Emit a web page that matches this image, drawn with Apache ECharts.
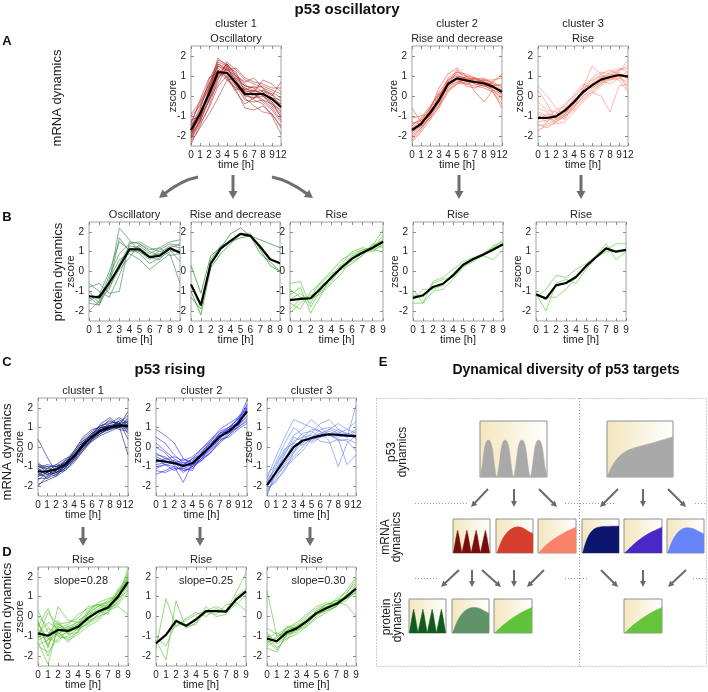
<!DOCTYPE html>
<html><head><meta charset="utf-8">
<script src="https://cdn.jsdelivr.net/npm/echarts@6/dist/echarts.min.js"></script>
<style>html,body{margin:0;padding:0;background:#fff}#c{width:708px;height:692px}</style>
</head><body><div id="c"></div>
<script>
// ---------------- DATA ----------------
const mrnaTimes = ['0','1','2','3','4','5','6','7','8','9','12'];
const proteinTimes = ['0','1','2','3','4','5','6','7','8','9'];
const zTicks = [-2,-1,0,1,2];

// Panel A (p53 oscillatory, mRNA)
const a1Mean = [-1.7,-0.9,0.1,1.2,1.15,0.65,0.1,0.1,0.1,-0.15,-0.55];
const a1Genes = [
 [-2.1,-1.2,0.3,1.6,1.4,0.8,0.2,0.3,0.0,-0.4,-0.9],
 [-1.5,-0.6,0.5,1.9,1.5,0.9,0.5,0.4,0.5,0.3,0.1],
 [-1.9,-1.3,-0.2,1.0,1.6,1.0,0.4,0.2,0.3,0.1,-0.3],
 [-1.3,-0.4,0.6,1.5,1.2,0.5,-0.2,-0.3,-0.2,-0.6,-1.2],
 [-2.4,-1.5,-0.5,0.8,1.7,1.3,0.8,0.6,0.4,0.2,-0.1],
 [-1.0,-0.5,0.4,1.3,1.0,0.3,-0.6,-0.7,-0.5,-0.9,-1.6],
 [-1.8,-0.9,0.0,1.1,1.3,1.4,0.9,0.7,0.6,0.4,0.4],
 [-2.2,-1.4,-0.6,0.5,1.0,0.5,0.0,-0.1,0.2,-0.3,-0.8],
 [-1.6,-0.7,0.8,1.7,1.5,0.6,0.0,0.3,0.1,-0.2,-0.4],
 [-1.2,-1.0,-0.3,0.9,1.4,0.8,0.1,-0.2,-0.4,-1.0,-1.9],
 [-2.0,-0.8,0.2,1.4,0.9,0.2,-0.4,-0.1,0.0,-0.5,-1.0],
 [-1.7,-1.1,0.3,1.8,1.6,1.1,0.6,0.2,0.8,0.6,0.2],
 [-1.4,-0.2,0.9,1.2,0.8,0.4,0.3,0.5,0.2,0.1,-0.6],
 [-2.3,-1.6,-0.9,-0.1,0.8,0.9,0.3,0.1,-0.3,-0.7,-1.3],
 [-1.9,-1.0,0.1,1.0,1.2,0.7,-0.1,-0.5,-0.8,-0.9,-1.5],
 [-0.9,-0.3,0.6,1.6,1.3,1.0,0.7,0.9,0.4,0.0,0.7],
 [-2.1,-1.3,-0.2,0.6,1.5,1.2,0.2,0.0,0.1,-0.1,-0.2],
 [-1.5,-0.8,0.1,1.3,0.9,0.3,0.4,0.1,-0.2,-0.4,-0.7],
 [-1.8,-1.1,0.4,1.5,1.3,0.7,0.1,-0.1,0.3,-0.1,-0.4],
 [-2.0,-1.2,-0.1,1.1,1.6,1.0,0.5,0.4,0.0,-0.3,-1.1]
];
const a2Mean = [-1.7,-1.4,-0.85,-0.2,0.6,0.88,0.78,0.7,0.63,0.47,0.2];
const a2Genes = [
 [-2.1,-1.6,-1.0,-0.1,0.9,1.2,1.0,0.9,0.8,0.7,0.4],
 [-1.4,-1.2,-0.6,0.2,0.8,1.0,0.9,0.6,0.5,0.3,-0.2],
 [-2.3,-1.8,-1.2,-0.5,0.3,0.7,0.8,0.9,0.7,0.6,0.5],
 [-0.6,-1.3,-0.9,0.0,0.7,0.9,0.5,0.4,0.6,0.2,-0.4],
 [-1.8,-1.5,-0.7,0.4,1.1,1.4,1.0,0.8,0.7,0.5,0.0],
 [-1.9,-1.5,-1.1,-0.6,0.2,0.6,0.7,0.7,0.8,0.8,0.9],
 [-1.5,-1.1,-0.5,0.1,0.6,0.8,0.6,0.5,0.4,0.2,-0.6],
 [-1.7,-1.4,-0.8,-0.3,0.5,1.0,0.9,0.2,-0.3,0.3,0.1],
 [-2.0,-1.6,-1.1,-0.3,0.4,0.9,0.9,0.8,0.9,0.6,0.3],
 [-1.6,-1.2,-0.9,-0.4,0.7,1.3,0.8,0.6,0.5,0.7,1.1],
 [-1.3,-1.4,-0.7,0.0,0.5,0.7,0.6,0.7,0.5,0.4,0.2],
 [-2.2,-1.7,-1.0,-0.2,0.8,1.1,0.7,0.9,0.7,0.3,-0.1],
 [-1.8,-1.3,-0.6,0.1,0.3,0.6,1.0,0.7,0.8,0.5,0.6],
 [-1.1,-1.0,-0.9,-0.5,0.6,1.2,1.1,0.9,0.6,0.4,0.3]
];
const a3Mean = [-1.1,-1.1,-1.02,-0.72,-0.3,0.2,0.53,0.82,0.95,1.05,0.97];
const a3Genes = [
 [-1.5,-1.4,-1.2,-0.9,-0.4,0.1,0.6,0.9,1.1,1.3,1.5],
 [0.5,0.0,-0.6,-1.0,-0.6,0.0,0.4,0.7,0.9,1.0,1.2],
 [-0.8,-1.0,-1.3,-0.9,-0.1,0.5,0.8,1.0,0.9,1.2,0.8],
 [-1.3,-1.2,-1.1,-0.8,-0.5,0.0,0.3,0.6,1.0,1.2,1.8],
 [-0.3,-0.7,-0.8,-1.2,-0.3,0.3,0.7,1.1,1.3,1.1,0.3],
 [-1.7,-1.5,-1.3,-1.0,-0.7,-0.2,0.2,0.6,0.8,0.9,0.7],
 [-1.0,-1.3,-0.9,-0.4,0.0,0.4,0.6,0.8,0.6,0.9,1.1],
 [-1.2,-0.9,-1.0,-0.7,-0.4,0.3,0.9,1.2,1.1,1.0,1.0],
 [-0.6,-0.8,-1.1,-1.1,-0.5,-0.1,0.2,0.0,-0.8,0.5,0.6],
 [-1.4,-1.6,-1.3,-1.0,-0.2,0.2,0.5,0.9,1.2,1.4,1.2],
 [-0.9,-1.1,-0.7,-0.5,0.1,0.6,0.4,0.7,0.9,0.8,0.2],
 [-1.8,-1.3,-0.9,-0.6,-0.2,0.1,0.6,1.0,1.0,1.3,1.4],
 [0.3,-0.4,-1.2,-0.8,-0.6,0.4,1.5,1.1,0.8,1.0,0.9],
 [-1.1,-1.0,-1.4,-1.3,-0.8,-0.3,0.1,0.5,0.9,1.0,0.5]
];

// Panel B (protein)
const b1Mean = [-1.25,-1.3,-0.58,0.25,1.12,1.12,0.72,0.8,1.17,0.95];
const b1Genes = [
 [-1.0,-1.6,-0.5,2.2,1.6,1.0,0.6,1.1,1.4,1.3],
 [-1.4,-1.2,0.0,1.5,1.1,1.3,0.9,1.2,1.5,1.6],
 [-0.8,-0.6,-1.1,-1.0,1.5,1.4,1.0,0.8,1.1,0.5],
 [-1.6,-1.7,-0.4,0.6,0.9,0.6,0.1,0.5,0.9,-0.6],
 [-1.2,-1.4,-0.9,0.4,1.3,1.2,0.8,0.9,1.3,1.2],
 [-2.0,-1.5,-0.2,0.9,1.4,1.5,1.2,1.0,1.2,1.0],
 [-0.6,-1.0,-1.3,-0.2,1.2,0.9,0.4,0.7,1.0,1.1],
 [-1.3,-1.7,-0.7,1.7,1.0,1.0,0.7,0.6,1.2,1.4],
 [-1.5,-1.2,-0.8,0.1,0.7,1.4,1.1,1.2,0.8,0.9]
];
const b2Mean = [-0.65,-1.7,0.4,1.15,1.55,1.9,1.8,1.25,0.62,0.42];
const b2Genes = [
 [0.3,-1.1,0.8,1.2,1.9,2.2,1.8,1.6,1.4,1.2],
 [-1.0,-2.2,0.2,0.9,1.4,1.9,1.9,1.1,0.3,0.0],
 [-1.3,-1.9,0.6,1.3,1.5,1.7,1.8,0.9,0.5,0.0]
];
const b3Mean = [-1.45,-1.38,-1.35,-0.85,-0.3,0.2,0.65,0.95,1.2,1.5];
const b3Genes = [
 [-0.6,-0.5,-1.8,-0.9,-0.3,0.3,0.8,1.0,1.3,2.1],
 [-1.9,-1.4,-1.3,-0.5,0.0,0.6,0.9,1.1,1.2,1.8],
 [-2.1,-1.6,-1.2,-1.0,-0.5,0.2,0.6,0.9,1.1,1.3],
 [-1.2,-0.8,-2.1,-1.2,-0.2,0.4,1.0,1.2,1.1,1.0],
 [-1.6,-1.9,-1.0,-0.6,-0.1,0.1,0.4,0.8,1.3,1.6],
 [-0.9,-1.3,-1.4,-1.1,-0.6,-0.1,0.7,1.1,1.0,1.4],
 [-1.4,-1.1,-1.6,-0.7,-0.4,0.3,0.5,0.8,1.4,1.2]
];
const b4Mean = [-1.33,-1.2,-0.78,-0.62,-0.2,0.33,0.62,0.85,1.1,1.38];
const b4Genes = [
 [-0.9,-1.6,-0.5,-0.3,0.1,0.5,0.7,0.9,1.2,1.6],
 [-1.6,-1.6,-1.0,-0.9,-0.4,0.2,0.5,0.8,0.6,1.1],
 [-1.4,-0.9,-0.9,-0.7,-0.1,0.4,0.6,0.9,1.2,1.4],
 [-1.2,-1.3,-0.6,-0.4,-0.3,0.3,0.7,0.8,1.3,1.5]
];
const b5Mean = [-1.15,-1.37,-0.7,-0.58,-0.28,0.27,0.72,1.17,1.0,1.1];
const b5Genes = [
 [-1.3,-0.9,-0.2,-0.3,0.1,0.4,0.8,1.4,0.6,1.0],
 [-1.1,-2.0,-0.6,-0.4,-0.6,0.1,0.7,1.1,1.4,1.4],
 [-1.2,-1.3,-1.3,-0.9,-0.3,0.3,0.7,1.0,1.0,1.0]
];

// Panel C (p53 rising, mRNA)
const c1Mean = [-1.25,-1.25,-1.15,-0.9,-0.48,0.1,0.52,0.85,1.0,1.1,1.08];
const c1Genes = [
 [-1.6,-1.6,-1.4,-1.1,-0.6,0.0,0.5,0.8,1.0,1.2,1.6],
 [-0.9,-1.0,-1.0,-0.8,-0.3,0.3,0.7,1.0,1.1,1.2,0.9],
 [0.4,-0.5,-1.3,-1.2,-0.7,-0.1,0.4,0.7,1.0,1.0,1.1],
 [-1.9,-1.7,-1.5,-1.2,-0.8,-0.2,0.3,0.6,0.8,1.0,1.3],
 [-1.2,-1.4,-1.2,-0.7,-0.2,0.4,0.8,1.1,1.2,1.3,0.7],
 [-1.5,-1.3,-0.9,-0.6,-0.4,0.1,0.5,0.9,1.1,1.0,1.4],
 [-1.0,-1.1,-1.2,-1.0,-0.5,0.2,0.7,1.1,1.3,1.2,1.0],
 [-1.4,-1.5,-1.3,-1.0,-0.6,-0.1,0.4,0.7,0.9,1.1,1.8],
 [-1.1,-0.9,-1.0,-0.9,-0.3,0.3,0.6,0.9,1.2,1.5,1.2],
 [-1.7,-1.3,-1.1,-0.8,-0.5,0.0,0.6,1.2,1.5,1.1,-0.4],
 [-0.8,-1.2,-1.4,-1.1,-0.6,0.2,0.5,0.8,0.9,1.0,1.2],
 [-1.3,-1.6,-1.2,-0.9,-0.4,0.0,0.3,0.7,1.0,1.3,0.4],
 [-2.0,-1.5,-1.0,-0.7,-0.5,0.2,0.7,0.9,1.0,1.0,1.5],
 [-1.2,-1.0,-1.3,-1.0,-0.7,-0.2,0.4,1.0,1.4,1.0,0.9],
 [-1.5,-1.1,-0.9,-1.0,-0.4,0.1,0.5,0.8,0.9,1.4,1.1],
 [-0.9,-1.3,-1.5,-0.9,-0.2,0.5,0.9,1.0,1.1,0.9,0.8],
 [-1.4,-1.2,-1.1,-0.8,-0.6,0.0,0.4,0.8,1.1,1.2,1.3],
 [-1.1,-1.4,-1.3,-1.1,-0.4,0.2,0.6,1.0,1.0,1.1,1.0]
];
const c2Mean = [-0.68,-0.74,-0.82,-0.97,-0.82,-0.4,0.05,0.52,0.8,1.2,1.82];
const c2Genes = [
 [0.9,0.6,0.2,-0.6,-0.8,-0.5,0.0,0.5,0.8,1.3,1.9],
 [-1.2,-1.3,-1.1,-1.1,-0.9,-0.5,-0.1,0.4,0.9,1.3,2.4],
 [-0.4,-0.5,-0.9,-1.3,-1.0,-0.6,0.1,0.7,0.9,1.1,1.5],
 [-0.9,-0.8,-0.7,-0.8,-1.0,-0.7,-0.2,0.3,0.6,1.0,2.0],
 [0.2,-0.2,-0.6,-0.9,-0.6,-0.1,0.3,0.7,1.0,1.4,1.7],
 [-1.4,-1.2,-1.0,-1.2,-1.1,-0.6,-0.3,0.3,0.7,1.2,2.2],
 [-0.6,-0.9,-1.0,-1.8,-0.8,-0.3,0.2,0.6,0.7,1.0,1.3],
 [-0.3,-0.6,-0.5,-0.7,-0.5,-0.1,0.4,0.8,1.0,1.2,1.8],
 [-1.0,-0.9,-1.2,-1.0,-0.9,-0.7,-0.3,0.2,0.6,1.1,1.6],
 [0.5,0.2,-0.4,-0.8,-0.7,-0.2,0.2,0.6,0.9,1.5,2.1],
 [-0.8,-0.6,-0.7,-1.1,-1.2,-0.4,0.0,0.5,1.0,1.4,2.0],
 [-1.1,-0.9,-0.8,-0.9,-0.6,-0.4,0.1,0.7,0.8,1.0,1.4],
 [-0.5,-0.7,-0.9,-0.6,-0.9,-0.6,-0.1,0.4,0.5,0.9,1.2],
 [0.0,-0.3,-0.8,-1.2,-1.0,-0.3,0.3,0.9,1.2,1.5,1.9]
];
const c3Mean = [-1.95,-1.3,-0.65,0.0,0.32,0.46,0.58,0.65,0.62,0.58,0.55];
const c3Genes = [
 [-1.6,-0.5,0.5,1.4,1.2,1.0,0.8,0.6,0.9,0.7,0.6],
 [-2.3,-1.6,-0.9,-0.3,0.2,0.5,0.7,0.9,0.7,0.5,2.1],
 [-1.8,-1.0,-0.2,0.6,0.9,1.4,1.0,0.6,0.4,0.3,-0.2],
 [-2.0,-1.5,-0.8,-0.2,0.4,0.3,0.6,0.8,0.6,0.7,0.4],
 [-1.5,-1.4,-1.0,-0.5,0.0,0.5,0.9,1.0,0.8,0.5,0.8],
 [-2.4,-1.2,-0.3,0.3,0.5,0.6,0.3,0.2,0.4,-0.9,-0.4],
 [-1.9,-0.8,0.2,1.0,0.6,0.2,0.5,0.9,1.2,0.9,1.3],
 [-2.1,-1.8,-1.1,-0.6,-0.2,0.4,0.7,0.6,0.5,0.6,0.9],
 [-1.7,-1.1,-0.6,0.2,0.7,0.8,0.5,0.7,0.3,0.4,0.2],
 [-2.5,-1.3,-0.4,0.5,0.3,0.7,1.2,1.4,0.9,0.6,0.5],
 [-1.4,-0.9,-0.1,0.2,0.1,0.4,0.5,0.6,0.7,0.9,0.7],
 [-2.2,-1.7,-1.2,-0.3,0.5,0.9,0.8,0.3,-1.0,0.2,0.6]
];

// Panel D (protein, rise)
const d1Mean = [-0.85,-0.97,-0.68,-0.73,-0.52,-0.08,0.25,0.45,1.0,1.75];
const d1Genes = [
 [-0.5,0.4,-0.9,-0.6,-0.4,0.1,0.3,0.5,1.0,2.4],
 [-1.3,-2.4,-0.5,-0.8,-0.6,0.0,0.4,0.6,1.2,1.9],
 [-0.2,-1.6,0.5,-0.2,-0.3,0.2,0.5,0.7,1.1,1.5],
 [-1.1,-0.6,-1.0,-1.1,-0.8,-0.3,0.1,0.4,0.9,2.0],
 [-0.7,-1.2,-0.3,-0.9,-0.4,0.3,0.6,0.3,0.5,0.1],
 [0.3,-0.8,-0.9,-0.5,-0.7,-0.2,0.0,0.2,0.8,1.6],
 [-1.5,-1.8,-1.1,-1.0,-0.6,-0.4,0.1,0.5,1.1,1.8],
 [-0.9,-0.3,-0.6,-0.4,0.1,0.4,0.6,0.7,1.2,2.2],
 [-0.6,-1.4,-0.8,-1.2,-0.9,-0.5,-0.2,0.3,0.9,1.3],
 [-1.0,0.2,-0.4,-0.7,-0.2,0.1,0.5,0.8,1.3,1.7],
 [-0.4,-1.1,-1.3,-0.6,-0.5,-0.1,0.2,0.4,0.7,1.4],
 [-1.2,-0.9,-0.2,-0.9,-0.8,0.2,0.7,0.9,1.0,2.1],
 [-0.8,-2.0,-0.7,-0.5,-0.3,-0.2,0.3,0.1,1.4,1.9],
 [0.0,-0.5,-1.0,-0.8,-0.4,0.0,0.2,0.6,1.1,1.6],
 [-1.4,-1.2,-0.8,-1.3,-0.7,-0.3,-0.1,0.4,0.6,1.2],
 [-0.3,-1.5,-0.4,-0.3,-0.1,0.5,0.6,0.5,0.9,1.8]
];
const d2Mean = [-1.35,-0.93,-0.22,-0.47,-0.15,0.27,0.27,0.25,0.85,1.27];
const d2Genes = [
 [-1.6,0.9,-0.5,-0.2,0.1,0.3,0.5,0.3,1.2,2.2],
 [-1.2,-2.2,0.8,-0.6,-0.3,0.2,0.1,0.6,0.7,0.3],
 [-1.0,-1.5,-0.3,-0.5,-0.4,0.5,0.0,0.1,1.0,1.4],
 [-1.4,-0.9,-0.5,-0.1,0.2,0.0,0.4,0.2,0.6,1.1]
];
const d3Mean = [-1.12,-1.25,-0.8,-0.6,-0.25,0.17,0.42,0.63,0.98,1.4];
const d3Genes = [
 [1.3,-1.0,-0.7,-0.5,-0.2,0.2,0.5,0.7,1.0,1.5],
 [-1.6,-1.8,-0.9,-0.7,-0.4,0.1,0.3,0.5,1.1,1.9],
 [-0.8,-1.4,-1.0,-0.6,-0.3,0.3,0.6,0.8,0.9,1.2],
 [-1.3,-1.1,-0.6,-0.3,0.1,0.5,0.7,0.6,0.8,1.3],
 [-1.0,-1.6,-1.1,-0.9,-0.5,-0.1,0.2,0.5,1.0,1.6],
 [-1.5,-1.2,-0.7,-0.5,-0.4,0.2,0.4,0.9,1.2,1.7],
 [-0.6,-0.9,-0.6,-0.4,0.0,0.4,0.6,0.7,0.6,0.0],
 [-1.2,-1.7,-0.9,-0.8,-0.2,0.1,0.3,0.5,1.1,1.4],
 [-0.9,-1.3,-0.5,-0.6,-0.3,0.3,0.5,0.6,0.9,1.2],
 [-1.4,-1.0,-0.8,-0.7,-0.5,0.0,0.4,0.7,1.3,2.0],
 [-1.1,-0.8,-1.2,-0.5,-0.1,0.2,0.6,0.8,1.0,1.5]
];
const slopes = ['slope=0.28','slope=0.25','slope=0.30'];

// Panel E schematic shapes ([x%, height fraction])
const sP53Osc = [[0,0],[3.5,0.22],[6.5,0.5],[9.5,0.63],[12.5,0.66],[15.5,0.63],[18.5,0.5],[21.5,0.22],[25,0],[28.5,0.22],[31.5,0.5],[34.5,0.63],[37.5,0.66],[40.5,0.63],[43.5,0.5],[46.5,0.22],[50,0],[53.5,0.22],[56.5,0.5],[59.5,0.63],[62.5,0.66],[65.5,0.63],[68.5,0.5],[71.5,0.22],[75,0],[78.5,0.22],[81.5,0.5],[84.5,0.63],[87.5,0.66],[90.5,0.63],[93.5,0.5],[96.5,0.22],[100,0]];
const sP53Rise = [[0,0],[8,0.2],[18,0.36],[30,0.47],[50,0.55],[75,0.63],[100,0.72]];
const sMrnaOsc = [[1,0],[9,0.5],[12.5,0.67],[16,0.5],[24,0],[26,0],[34,0.5],[37.5,0.67],[41,0.5],[49,0],[51,0],[59,0.5],[62.5,0.67],[66,0.5],[74,0],[76,0],[84,0.5],[87.5,0.67],[91,0.5],[99,0]];
const sMrnaRiseDec = [[3,0],[15,0.35],[28,0.58],[42,0.71],[58,0.77],[72,0.74],[86,0.65],[100,0.57]];
const sMrnaRise = [[2,0],[20,0.22],[40,0.4],[60,0.54],[80,0.66],[100,0.76]];
const sMrnaC1 = [[2,0],[10,0.3],[20,0.55],[32,0.7],[45,0.76],[60,0.78],[100,0.79]];
const sMrnaC2 = [[2,0],[25,0.25],[50,0.47],[75,0.63],[100,0.76]];
const sMrnaC3 = [[2,0],[12,0.3],[25,0.55],[40,0.7],[55,0.74],[70,0.72],[85,0.64],[100,0.56]];
const sProtOsc = [[1,0],[9,0.52],[12.5,0.7],[16,0.52],[24,0],[26,0],[34,0.52],[37.5,0.7],[41,0.52],[49,0],[51,0],[59,0.52],[62.5,0.7],[66,0.52],[74,0],[76,0],[84,0.52],[87.5,0.7],[91,0.52],[99,0]];
const sProtRiseDec = [[2,0],[15,0.36],[30,0.6],[45,0.72],[60,0.75],[75,0.72],[90,0.63],[100,0.57]];
const sProtRise = [[2,0],[25,0.24],[50,0.45],[75,0.62],[100,0.75]];

// ---------------- BUILD ----------------
const FONT = '"Liberation Sans", Arial, Helvetica, sans-serif';
const chart = echarts.init(document.getElementById('c'), null, {renderer:'canvas'});
const grids=[], xAxes=[], yAxes=[], series=[], graphics=[];

function text(t,x,y,o){
  o=o||{};
  graphics.push({type:'text',x:x,y:y,rotation:o.rot||0,silent:true,z:10,
    style:{text:t,fontSize:o.size||11,fontWeight:o.bold?'bold':'normal',fontFamily:FONT,
      fill:o.color||'#222',align:'center',verticalAlign:'middle',lineHeight:o.lh||undefined}});
}
function plot(p){
  const l=p.rect[0],t=p.rect[1],w=p.rect[2],h=p.rect[3];
  const gi=grids.length;
  grids.push({left:l,top:t,width:w,height:h,show:true,borderColor:'#a3a3a3',borderWidth:1,backgroundColor:'#fff'});
  const tick={show:true,inside:true,length:3,interval:0,lineStyle:{color:'#8c8c8c',width:1}};
  const xi=xAxes.length;
  xAxes.push({gridIndex:gi,type:'category',data:p.cats,boundaryGap:false,position:'bottom',
    axisLine:{show:false,onZero:false},axisTick:tick,
    axisLabel:{interval:0,fontSize:10,color:'#222',margin:4,fontFamily:FONT},splitLine:{show:false}});
  xAxes.push({gridIndex:gi,type:'category',data:p.cats,boundaryGap:false,position:'top',
    axisLine:{show:false,onZero:false},axisTick:tick,axisLabel:{show:false},splitLine:{show:false}});
  const yi=yAxes.length;
  const ytick={show:true,inside:true,length:3,customValues:zTicks,lineStyle:{color:'#8c8c8c',width:1}};
  yAxes.push({gridIndex:gi,type:'value',min:-2.5,max:2.5,position:'left',axisLine:{show:false,onZero:false},axisTick:ytick,
    axisLabel:{customValues:zTicks,fontSize:10,color:'#222',margin:5,fontFamily:FONT},splitLine:{show:false}});
  yAxes.push({gridIndex:gi,type:'value',min:-2.5,max:2.5,position:'right',axisLine:{show:false,onZero:false},axisTick:ytick,
    axisLabel:{show:false},splitLine:{show:false}});
  p.genes.forEach(function(g){
    series.push({type:'line',xAxisIndex:xi,yAxisIndex:yi,data:g,symbol:'none',silent:true,animation:false,z:2,
      lineStyle:{width:1,color:p.color}});
  });
  series.push({type:'line',xAxisIndex:xi,yAxisIndex:yi,data:p.mean,symbol:'none',silent:true,animation:false,z:3,
    lineStyle:{width:2.2,color:'#000'}});
  const cx=l+w/2;
  if(p.title) text(p.title,cx,t-7,{size:11});
  if(p.sup) text(p.sup,cx,t-22,{size:11});
  text('time [h]',cx,t+h+19,{size:11});
  if(p.zscore) text('zscore',l-18,t+h/2,{size:11,rot:Math.PI/2});
  if(p.slope) text(p.slope,cx+p.slopeDx,t+14,{size:11});
}
function schem(rect,data,color,smooth){
  const gi=grids.length;
  grids.push({left:rect[0],top:rect[1],width:rect[2],height:rect[3],show:true,borderColor:'#8f8f8f',borderWidth:1,
    backgroundColor:new echarts.graphic.LinearGradient(0,0,1,0,[{offset:0,color:'#f3e6bd'},{offset:1,color:'#ffffff'}])});
  const xi=xAxes.length; xAxes.push({gridIndex:gi,type:'value',min:0,max:100,show:false});
  const yi=yAxes.length; yAxes.push({gridIndex:gi,type:'value',min:0,max:1,show:false});
  series.push({type:'line',xAxisIndex:xi,yAxisIndex:yi,data:data,symbol:'none',smooth:smooth?0.35:false,
    silent:true,animation:false,z:2,lineStyle:{width:0.5,color:color},areaStyle:{color:color,opacity:1}});
}
function arrow(x1,y1,x2,y2,lw,hl,hw,color){
  const a=Math.atan2(y2-y1,x2-x1);
  const bx=x2-hl*Math.cos(a), by=y2-hl*Math.sin(a);
  const px=-Math.sin(a)*hw/2, py=Math.cos(a)*hw/2;
  graphics.push({type:'line',silent:true,z:9,shape:{x1:x1,y1:y1,x2:bx+Math.cos(a),y2:by+Math.sin(a)},style:{stroke:color,lineWidth:lw}});
  graphics.push({type:'polygon',silent:true,z:9,shape:{points:[[x2,y2],[bx+px,by+py],[bx-px,by-py]]},style:{fill:color}});
}
function curvedArrow(x1,y1,cx,cy,x2,y2,lw,hl,hw,color){
  const a=Math.atan2(y2-cy,x2-cx);
  const bx=x2-hl*Math.cos(a), by=y2-hl*Math.sin(a);
  const px=-Math.sin(a)*hw/2, py=Math.cos(a)*hw/2;
  graphics.push({type:'bezierCurve',silent:true,z:9,shape:{x1:x1,y1:y1,cpx1:cx,cpy1:cy,x2:bx+Math.cos(a),y2:by+Math.sin(a)},style:{stroke:color,lineWidth:lw,fill:null}});
  graphics.push({type:'polygon',silent:true,z:9,shape:{points:[[x2,y2],[bx+px,by+py],[bx-px,by-py]]},style:{fill:color}});
}

// colors
const cA1='rgba(160,20,20,0.5)', cA2='rgba(232,68,46,0.55)', cA3='rgba(247,127,106,0.55)';
const cB1='rgba(78,143,95,0.7)', cB2='rgba(60,158,60,0.8)', cB3='rgba(100,204,76,0.75)', cB4='rgba(118,216,96,0.8)';
const cC1='rgba(13,27,126,0.6)', cC2='rgba(43,43,240,0.6)', cC3='rgba(100,128,242,0.6)';
const cD='rgba(80,192,42,0.6)';

// Panel A
plot({rect:[191,46,90,100],cats:mrnaTimes,genes:a1Genes,mean:a1Mean,color:cA1,zscore:true,sup:'cluster 1',title:'Oscillatory'});
plot({rect:[412,46,90,100],cats:mrnaTimes,genes:a2Genes,mean:a2Mean,color:cA2,zscore:true,sup:'cluster 2',title:'Rise and decrease'});
plot({rect:[538,46,90,100],cats:mrnaTimes,genes:a3Genes,mean:a3Mean,color:cA3,zscore:true,sup:'cluster 3',title:'Rise'});
// Panel B
plot({rect:[89,222,91,99],cats:proteinTimes,genes:b1Genes,mean:b1Mean,color:cB1,zscore:true,title:'Oscillatory'});
plot({rect:[191,222,89,99],cats:proteinTimes,genes:b2Genes,mean:b2Mean,color:cB2,title:'Rise and decrease'});
plot({rect:[290,222,93,99],cats:proteinTimes,genes:b3Genes,mean:b3Mean,color:cB3,title:'Rise'});
plot({rect:[413,222,90,99],cats:proteinTimes,genes:b4Genes,mean:b4Mean,color:cB4,zscore:true,title:'Rise'});
plot({rect:[536,222,90,99],cats:proteinTimes,genes:b5Genes,mean:b5Mean,color:cB4,zscore:true,title:'Rise'});
// Panel C
plot({rect:[38,398,90,98],cats:mrnaTimes,genes:c1Genes,mean:c1Mean,color:cC1,zscore:true,title:'cluster 1'});
plot({rect:[156,398,91,98],cats:mrnaTimes,genes:c2Genes,mean:c2Mean,color:cC2,zscore:true,title:'cluster 2'});
plot({rect:[267,398,89,98],cats:mrnaTimes,genes:c3Genes,mean:c3Mean,color:cC3,zscore:true,title:'cluster 3'});
// Panel D
plot({rect:[38,567,90,99],cats:proteinTimes,genes:d1Genes,mean:d1Mean,color:cD,zscore:true,title:'Rise',slope:slopes[0],slopeDx:-2});
plot({rect:[156,567,90,99],cats:proteinTimes,genes:d2Genes,mean:d2Mean,color:cD,title:'Rise',slope:slopes[1],slopeDx:5});
plot({rect:[267,567,89,99],cats:proteinTimes,genes:d3Genes,mean:d3Mean,color:cD,title:'Rise',slope:slopes[2],slopeDx:7});

// Panel E schematic
schem([480,421,67,56],sP53Osc,'#a9a9a9',true);
schem([607,421,66,56],sP53Rise,'#a9a9a9',true);
schem([453,519,37,34],sMrnaOsc,'#7b0c0c',false);
schem([496,519,37,34],sMrnaRiseDec,'#d63d2d',true);
schem([538,519,38,34],sMrnaRise,'#f9826a',true);
schem([582,519,37,34],sMrnaC1,'#0b176f',true);
schem([624,519,38,34],sMrnaC2,'#4a28c8',true);
schem([667,519,37,34],sMrnaC3,'#6784f8',true);
schem([409,599,37,34],sProtOsc,'#0f5a1e',false);
schem([452,599,37,34],sProtRiseDec,'#5f9368',true);
schem([494,599,38,34],sProtRise,'#5ec23a',true);
schem([624,599,38,34],sProtRise,'#66c43c',true);

// Headings and side labels
text('p53 oscillatory',347,10,{size:15,bold:true,color:'#111'});
text('A',7,41,{size:13,bold:true,color:'#111'});
text('mRNA dynamics',57,98,{size:13,rot:Math.PI/2});
text('B',7,217,{size:13,bold:true,color:'#111'});
text('protein dynamics',58,272,{size:13,rot:Math.PI/2});
text('C',7,362,{size:13,bold:true,color:'#111'});
text('p53 rising',170,370,{size:15,bold:true,color:'#111'});
text('mRNA dynamics',7,452,{size:13,rot:Math.PI/2});
text('D',7,552,{size:13,bold:true,color:'#111'});
text('protein dynamics',7,612,{size:13,rot:Math.PI/2});
text('E',383,362,{size:13,bold:true,color:'#111'});
text('Dynamical diversity of p53 targets',566,370,{size:14,bold:true,color:'#111'});
text('p53\ndynamics',397,452,{size:12,rot:Math.PI/2,lh:11});
text('mRNA\ndynamics',391,537,{size:12,rot:Math.PI/2,lh:11});
text('protein\ndynamics',392,617,{size:12,rot:Math.PI/2,lh:11});

// Arrows A -> B and C -> D
const AG='#6e6e6e';
curvedArrow(198,177,182,180,159,198,3,8,9,AG);
arrow(233,175,233,199,3,8,9,AG);
curvedArrow(272,177,288,180,313,198,3,8,9,AG);
arrow(459,175,459,199,3,8,9,AG);
arrow(581,175,581,199,3,8,9,AG);
arrow(83,527,83,546,3,8,9,AG);
arrow(200,527,200,546,3,8,9,AG);
arrow(310,527,310,546,3,8,9,AG);

// Panel E frame, dividers and arrows
const DOT={stroke:'#9a9a9a',lineWidth:1,lineDash:[1,2]};
graphics.push({type:'rect',silent:true,z:1,shape:{x:376.5,y:398.5,width:330,height:268},style:{stroke:'#9a9a9a',lineWidth:1,lineDash:[1,2],fill:null}});
graphics.push({type:'line',silent:true,z:1,shape:{x1:579.5,y1:398,x2:579.5,y2:666},style:DOT});
[[415,467,503],[565,615,503],[695,707,503],[415,438,578],[565,588,578],[693,707,578]].forEach(function(s){
  graphics.push({type:'line',silent:true,z:1,shape:{x1:s[0],y1:s[2]+0.5,x2:s[1],y2:s[2]+0.5},style:DOT});
});
const EG='#6a6a6a';
[[488,489,471,507],[514,489,514,507],[539,489,557,507],[618,489,600,507],[643,489,643,507],[668,489,686,507],
 [459,570,441,587],[472,570,472,587],[482,570,501,587],[514,570,514,587],[544,570,527,587],
 [601,570,618,587],[643,570,643,587],[686,570,668,587]].forEach(function(a){ arrow(a[0],a[1],a[2],a[3],2,6,6,EG); });

chart.setOption({
  animation:false,
  backgroundColor:'#ffffff',
  textStyle:{fontFamily:FONT},
  grid:grids, xAxis:xAxes, yAxis:yAxes, series:series, graphic:graphics
});
</script></body></html>
